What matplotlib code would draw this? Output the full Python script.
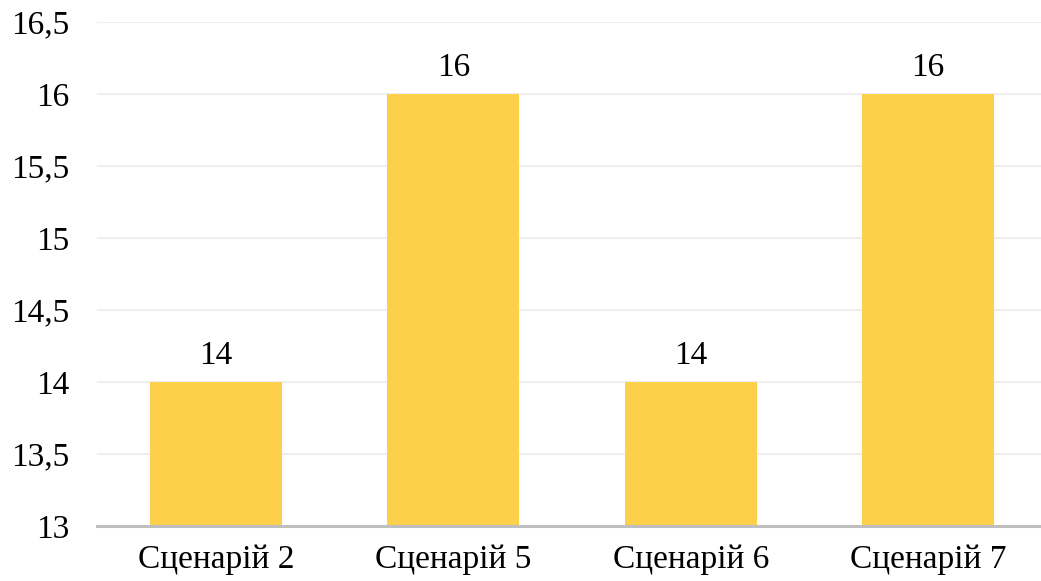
import matplotlib
matplotlib.use("Agg")
import matplotlib.pyplot as plt
from matplotlib.ticker import FuncFormatter, MultipleLocator

categories = ["Сценарій 2", "Сценарій 5", "Сценарій 6", "Сценарій 7"]
values = [14, 16, 14, 16]

plt.rcParams["font.family"] = ["Liberation Serif", "DejaVu Serif"]

fig = plt.figure(figsize=(10.41, 5.81), dpi=100)
ax = fig.add_axes([97 / 1041, 55 / 581, 950 / 1041, 504 / 581])

x = range(len(categories))
ax.bar(x, values, width=0.555, color="#FDD04B", zorder=2)
ax.set_xlim(-0.5, len(categories) - 0.5)
ax.set_ylim(13, 16.5)
ax.yaxis.set_major_locator(MultipleLocator(0.5))
ax.yaxis.set_major_formatter(FuncFormatter(lambda v, _: f"{v:g}".replace(".", ",")))

ax.grid(axis="y", color="#EFEFEF", linewidth=1.5, zorder=0)
for s in ["top", "right", "left"]:
    ax.spines[s].set_visible(False)
ax.spines["bottom"].set_color("#BFBFBF")
ax.spines["bottom"].set_linewidth(2.2)
ax.spines["bottom"].set_zorder(3)

ax.set_xticks(list(x))
ax.set_xticklabels(categories)
ax.tick_params(axis="both", length=0, labelsize=24, colors="#000000")
ax.tick_params(axis="y", pad=20)
ax.tick_params(axis="x", pad=13)

for xi, v in zip(x, values):
    ax.annotate(f"{v}", (xi, v), xytext=(0, 8), textcoords="offset points",
                ha="center", va="bottom", fontsize=24)

fig.savefig("out.png", dpi=100, facecolor="white")
